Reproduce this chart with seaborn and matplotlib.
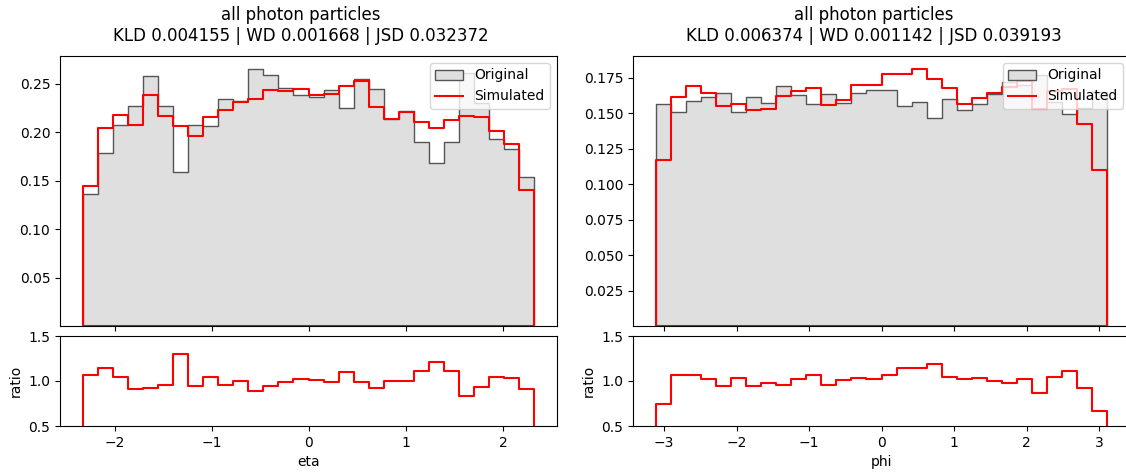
import numpy as np
import pandas as pd
import matplotlib
matplotlib.use("Agg")
import matplotlib.pyplot as plt
from matplotlib.patches import Patch
from matplotlib.lines import Line2D
import seaborn as sns

# Normalised photon distributions, 30 bins each
eta_range = (-2.33, 2.32)
eta_original = [0.1364, 0.1785, 0.208, 0.227, 0.258, 0.227, 0.1587, 0.208, 0.207, 0.234,
                0.232, 0.2656, 0.259, 0.2458, 0.239, 0.2366, 0.244, 0.2253, 0.2554, 0.2448,
                0.2133, 0.2219, 0.1904, 0.1685, 0.1904, 0.261, 0.2305, 0.1928, 0.1826, 0.1535]
eta_simulated = [0.145, 0.204, 0.2178, 0.2075, 0.239, 0.2167, 0.2065, 0.1959, 0.216, 0.2226,
                 0.2315, 0.2349, 0.244, 0.243, 0.2448, 0.2383, 0.24, 0.248, 0.2526, 0.2263,
                 0.2133, 0.2212, 0.2106, 0.2048, 0.2126, 0.2167, 0.216, 0.2014, 0.1877, 0.1405]

phi_range = (-3.115, 3.11)
phi_original = [0.1567, 0.1508, 0.1585, 0.1615, 0.1643, 0.1511, 0.1613, 0.1574, 0.1694, 0.1627,
                0.1565, 0.1636, 0.1574, 0.1645, 0.1666, 0.1662, 0.155, 0.1578, 0.1469, 0.1601,
                0.1522, 0.1562, 0.1636, 0.1719, 0.1696, 0.1772, 0.158, 0.1497, 0.154, 0.165]
phi_simulated = [0.1171, 0.1613, 0.169, 0.1643, 0.155, 0.1562, 0.1522, 0.1532, 0.1625, 0.166,
                 0.1678, 0.1555, 0.159, 0.1696, 0.1696, 0.1778, 0.1778, 0.1813, 0.1743, 0.1678,
                 0.1562, 0.1608, 0.1643, 0.1686, 0.1727, 0.1529, 0.1656, 0.167, 0.1427, 0.110]

titles = ["all photon particles\nKLD 0.004155 | WD 0.001668 | JSD 0.032372",
          "all photon particles\nKLD 0.006374 | WD 0.001142 | JSD 0.039193"]
xlabels = ["eta", "phi"]
top_yticks = [[0.05, 0.10, 0.15, 0.20, 0.25],
              [0.025, 0.050, 0.075, 0.100, 0.125, 0.150, 0.175]]
ratio_yticks = [0.5, 1.0, 1.5]

N_BINS = 30
FILL = "#dfdfdf"
EDGE = "#555555"

W, H = 1126, 472
fig = plt.figure(figsize=(W / 100, H / 100), dpi=100)

panels = [
    (eta_range, eta_original, eta_simulated, 60),
    (phi_range, phi_original, phi_simulated, 633),
]

for i, (rng, orig, sim, left_px) in enumerate(panels):
    edges = np.linspace(rng[0], rng[1], N_BINS + 1)
    df = pd.DataFrame({
        "x": 0.5 * (edges[:-1] + edges[1:]),
        "orig": orig,
        "sim": sim,
    })
    df["ratio"] = df["sim"] / df["orig"]

    ax_w = 497 / W
    ax_top = fig.add_axes([left_px / W, 1 - 326 / H, ax_w, (326 - 56) / H])
    ax_rat = fig.add_axes([left_px / W, 1 - 426 / H, ax_w, (426 - 336) / H], sharex=ax_top)

    hist_kw = dict(x="x", bins=N_BINS, binrange=rng, element="step", fill=True)
    sns.histplot(data=df, weights="orig", color=EDGE, facecolor=FILL, edgecolor=EDGE,
                 linewidth=1.0, ax=ax_top, **hist_kw)
    sns.histplot(data=df, weights="sim", color="red", facecolor="none", edgecolor="red",
                 linewidth=1.5, ax=ax_top, **hist_kw)
    sns.histplot(data=df, weights="ratio", color="red", facecolor="none", edgecolor="red",
                 linewidth=1.5, ax=ax_rat, **hist_kw)

    ax_top.set_title(titles[i], fontsize=12, x=0.485, pad=11)
    ax_top.set_ylabel("")
    ax_top.set_xlabel("")
    ax_top.set_yticks(top_yticks[i])
    ax_top.tick_params(labelbottom=False)
    ax_top.legend(handles=[Patch(facecolor=FILL, edgecolor=EDGE, linewidth=1.0),
                           Line2D([], [], color="red", linewidth=1.5)],
                  labels=["Original", "Simulated"], loc="upper right")

    ax_rat.set_ylim(0.5, 1.5)
    ax_rat.set_yticks(ratio_yticks)
    ax_rat.set_ylabel("ratio")
    ax_rat.set_xlabel(xlabels[i])

fig.savefig("out.png", dpi=100)
